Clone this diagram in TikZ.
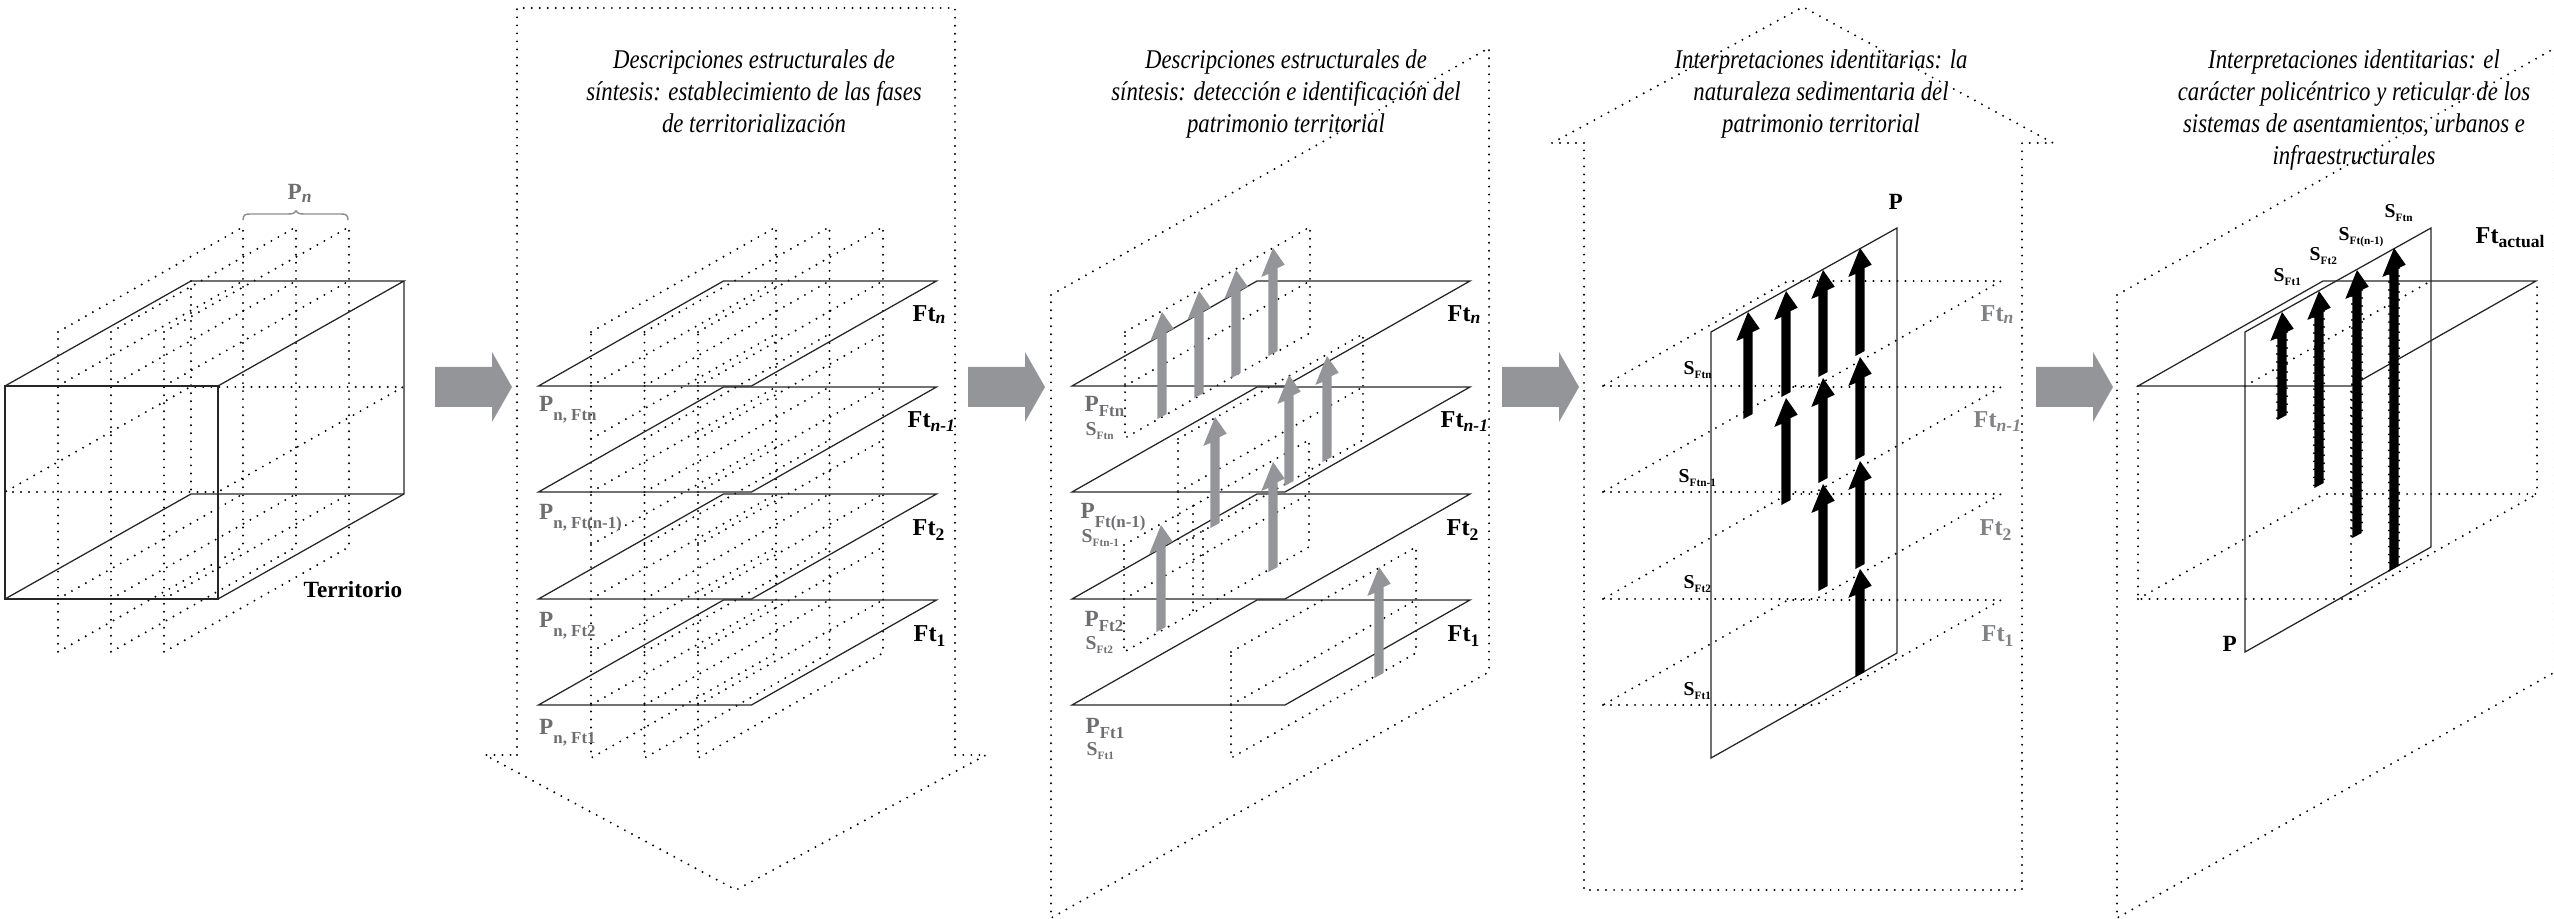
\documentclass[tikz,border=0pt]{standalone}
\usepackage{fontspec}
\setmainfont{Liberation Serif}
\newfontfamily\titlefont[FakeStretch=0.84]{Liberation Serif}
\definecolor{arrowgray}{HTML}{939598}
\definecolor{labelgray}{HTML}{6D6E71}
\definecolor{ghostgray}{HTML}{808285}

\tikzset{
	dotline/.style={line width=0.62pt, line cap=round, dash pattern=on 0pt off 2.28pt, color=black},
	solidline/.style={line width=0.36pt, color=black!85},
	titletext/.style={anchor=north, inner sep=0, align=center, font=\titlefont\itshape\fontsize{7.7}{9.1}\selectfont},
	lbl/.style={anchor=base west, inner sep=0, font=\bfseries}
}

% horizontal phase plane, front left corner given
\def\phaseplane[#1](#2,#3){\draw[#1] (#2,#3) -- ({#2+213},#3) -- ({#2+398},{#3-105}) -- ({#2+185},{#3-105}) -- cycle;}
% dotted box standing on a slanted side: x, top of the front edge, height
\def\wallbox(#1,#2,#3){\draw[dotline] (#1,#2) -- ({#1+185},{#2-105}) -- ({#1+185},{#2-105+#3}) -- (#1,{#2+#3}) -- cycle;}
\def\midline(#1,#2){\draw[dotline] (#1,#2) -- ({#1+185},{#2-105});}
% vertical cut of the cube
\def\slicefour(#1){%
	\wallbox(#1,332,320)
	\midline(#1,386)
	\midline(#1,599)
}
% vertical cut of the whole stack of planes
\def\slicenine(#1){%
	\wallbox(#1,332,426)
	\draw[dotline] (#1,386) -- ++(185,-105) (#1,439) -- ++(185,-105) (#1,492) -- ++(185,-105)
		(#1,545) -- ++(185,-105) (#1,599) -- ++(185,-105) (#1,652) -- ++(185,-105) (#1,705) -- ++(185,-105);
}
% arrow with slanted head and foot: colour, x, tip, foot
\def\sedarrow[#1](#2,#3,#4){\fill[#1] (#2,#3) -- ({#2+11.7},{#3+16.7}) -- ({#2+4.7},{#3+20}) -- ({#2+4.7},{#4-5})
	-- ({#2-4.6},#4) -- ({#2-4.6},{#3+26}) -- ({#2-11.7},{#3+29}) -- cycle;}
% dots along the two sides of a shaft
\def\dotflank(#1,#2,#3){\draw[dotline] ({#1+5},{#2+20}) -- ({#1+5},{#3-5}) ({#1-5},{#2+26}) -- ({#1-5},#3);}
% thick arrow between the panels
\def\bigarrow(#1){\fill[arrowgray] (#1,367) -- ({#1+57},367) -- ({#1+57},352) -- ({#1+77},387) -- ({#1+57},422) -- ({#1+57},407) -- (#1,407) -- cycle;}
% labels
\newcommand\psub[2]{{\fontsize{6.6}{7}\selectfont #1}\raisebox{-2.5pt}{\fontsize{4.8}{5}\selectfont #2}}
\newcommand\psubb[2]{{\fontsize{6.6}{7}\selectfont #1}\raisebox{-1.4pt}{\fontsize{4.8}{5}\selectfont #2}}
\newcommand\ssub[2]{{\fontsize{5.6}{6}\selectfont #1}\raisebox{-0.9pt}{\fontsize{3.2}{4}\selectfont #2}}
\newcommand\ftsub[2]{{\fontsize{6.9}{7}\selectfont Ft}\raisebox{#2}{\fontsize{5}{5}\selectfont #1}}

\begin{document}
\begin{tikzpicture}[x=0.01cm, y=-0.01cm]
		\useasboundingbox (0,0) rectangle (2554,919);
		%%%%% START %%%%%
		
		% territory cube
		\slicefour(58)
		\slicefour(111)
		\slicefour(164)
		\phaseplane[dotline](5,492)
		\draw[dotline] (191,281) -- (191,494);
		\draw[solidline] (5,386) rectangle (218,599);
		\draw[solidline] (5,386) -- (191,281) -- (404,281) -- (218,386);
		\draw[solidline] (404,281) -- (404,494) -- (218,599);
		\draw[solidline] (5,599) -- (191,494) -- (404,494);
		\draw[line width=0.4pt, color=black!45] (243,220) .. controls (243,215) and (245,214) .. (250,214) -- (288,214) .. controls (293,214) and (295,213) .. (296,211) .. controls (297,213) and (299,214) .. (304,214) -- (341,214) .. controls (346,214) and (348,215) .. (348,220);
		\node[lbl, color=labelgray] (pn) at (287,200) {{\fontsize{6.6}{7}\selectfont P}\raisebox{-0.6pt}{\fontsize{5}{5}\selectfont\itshape n}};
		\node[lbl, font=\bfseries\fontsize{6.6}{7}\selectfont] (territorio) at (303,598) {Territorio};
		
		\bigarrow(435)
		
		% phases
		\draw[dotline] (517,755) -- (517,8) -- (955,8) -- (955,755) -- (986,755) -- (736,890) -- (485,755) -- cycle;
		\node[titletext] (titleb) at (754,49) {Descripciones estructurales de\\síntesis: establecimiento de las fases\\de territorialización};
		\slicenine(591)
		\slicenine(644.5)
		\slicenine(698)
		\phaseplane[solidline](538.5,386)
		\phaseplane[solidline](538.5,492)
		\phaseplane[solidline](538.5,599)
		\phaseplane[solidline](538.5,705)
		\node[lbl, color=labelgray] (pbn) at (538.5,412) {\psub{P}{n, Ftn}};
		\node[lbl, color=labelgray] (pbm) at (538.5,520) {\psub{P}{n, Ft(n-1)}};
		\node[lbl, color=labelgray] (pbb) at (538.5,628) {\psub{P}{n, Ft2}};
		\node[lbl, color=labelgray] (pba) at (538.5,735) {\psub{P}{n, Ft1}};
		\node[lbl] (ftbn) at (912,322) {\ftsub{\itshape n}{-0.3pt}};
		\node[lbl] (ftbm) at (907,428) {\ftsub{\itshape n-1}{-1pt}};
		\node[lbl] (ftbb) at (912,536) {\ftsub{2}{-1.4pt}};
		\node[lbl] (ftba) at (913,642) {\ftsub{1}{-1.4pt}};
		
		\bigarrow(968)
		
		% patrimony in each phase
		\draw[dotline] (1051,295) -- (1489,48) -- (1489,672) -- (1051,918) -- cycle;
		\node[titletext] (titlec) at (1286,49) {Descripciones estructurales de\\síntesis: detección e identificación del\\patrimonio territorial};
		\wallbox(1125,332,106)
		\midline(1125,386)
		\wallbox(1178,439,106)
		\midline(1178,492)
		\wallbox(1124,545,107)
		\midline(1124,599)
		\draw[dotline] (1193,506) -- (1193,613);
		\draw[dotline] (1203,531) -- (1203,600);
		\wallbox(1231,652,106)
		\midline(1231,705)
		\phaseplane[solidline](1072,386)
		\phaseplane[solidline](1072,492)
		\phaseplane[solidline](1072,599)
		\phaseplane[solidline](1072,705)
		\sedarrow[arrowgray](1162,312,419)
		\sedarrow[arrowgray](1199,291,398)
		\sedarrow[arrowgray](1236,270,378)
		\sedarrow[arrowgray](1273,248,356)
		\sedarrow[arrowgray](1215,417,528)
		\sedarrow[arrowgray](1289,375,486)
		\sedarrow[arrowgray](1327,356,462)
		\sedarrow[arrowgray](1161,525,632)
		\sedarrow[arrowgray](1273,462,572)
		\sedarrow[arrowgray](1379,567,678)
		\node[lbl, color=labelgray] (pcn) at (1084,412) {\psubb{P}{Ftn}};
		\node[lbl, color=labelgray] (scn) at (1085,436) {\ssub{S}{Ftn}};
		\node[lbl, color=labelgray] (pcm) at (1080,519) {\psub{P}{Ft(n-1)}};
		\node[lbl, color=labelgray] (scm) at (1081,543) {\ssub{S}{Ftn-1}};
		\node[lbl, color=labelgray] (pcb) at (1084,627) {\psubb{P}{Ft2}};
		\node[lbl, color=labelgray] (scb) at (1085,650) {\ssub{S}{Ft2}};
		\node[lbl, color=labelgray] (pca) at (1085,734) {\psubb{P}{Ft1}};
		\node[lbl, color=labelgray] (sca) at (1086,756) {\ssub{S}{Ft1}};
		\node[lbl] (ftcn) at (1447,322) {\ftsub{\itshape n}{-0.3pt}};
		\node[lbl] (ftcm) at (1440,428) {\ftsub{\itshape n-1}{-1pt}};
		\node[lbl] (ftcb) at (1446,536) {\ftsub{2}{-1.4pt}};
		\node[lbl] (ftca) at (1447,642) {\ftsub{1}{-1.4pt}};
		
		\bigarrow(1502)
		
		% sedimentary nature
		\draw[dotline] (1584,143) -- (1552,143) -- (1803,7) -- (2053,143) -- (2022,143) -- (2022,890) -- (1584,890) -- cycle;
		\node[titletext] (titled) at (1821,49) {Interpretaciones identitarias: la\\naturaleza sedimentaria del\\patrimonio territorial};
		\phaseplane[dotline](1603,386)
		\phaseplane[dotline](1603,492)
		\phaseplane[dotline](1603,599)
		\phaseplane[dotline](1603,705)
		\draw[solidline] (1711,332) -- (1897,228) -- (1897,653) -- (1711,758) -- cycle;
		\sedarrow[black](1748,312,419)
		\sedarrow[black](1786,291,397)
		\sedarrow[black](1786,398,505)
		\sedarrow[black](1823,270,377)
		\sedarrow[black](1823,378,483)
		\sedarrow[black](1823,484,591)
		\sedarrow[black](1860,248,356)
		\sedarrow[black](1860,357,460)
		\sedarrow[black](1860,461,569)
		\sedarrow[black](1860,569,677)
		\node[lbl, font=\bfseries\fontsize{6.6}{7}\selectfont] (pd) at (1888,210) {P};
		\node[lbl] (sdn) at (1683,375) {\ssub{S}{Ftn}};
		\node[lbl] (sdm) at (1678,483) {\ssub{S}{Ftn-1}};
		\node[lbl] (sdb) at (1683,589) {\ssub{S}{Ft2}};
		\node[lbl] (sda) at (1683,696) {\ssub{S}{Ft1}};
		\node[lbl, color=ghostgray] (ftdn) at (1980,322) {\ftsub{\itshape n}{-0.3pt}};
		\node[lbl, color=ghostgray] (ftdm) at (1973,428) {\ftsub{\itshape n-1}{-1pt}};
		\node[lbl, color=ghostgray] (ftdb) at (1979,536) {\ftsub{2}{-1.4pt}};
		\node[lbl, color=ghostgray] (ftda) at (1981,642) {\ftsub{1}{-1.4pt}};
		
		\bigarrow(2036)
		
		% present phase
		\draw[dotline] (2117,295) -- (2555,48) -- (2555,672) -- (2117,918) -- cycle;
		\node[titletext] (titlee) at (2354,49) {Interpretaciones identitarias: el\\carácter policéntrico y reticular de los\\sistemas de asentamientos, urbanos e\\infraestructurales};
		\draw[dotline] (2138,386) -- (2138,599) -- (2351,599) -- (2351,386);
		\draw[dotline] (2138,599) -- (2324,494) -- (2537,494) -- (2537,281);
		\draw[dotline] (2351,599) -- (2537,494);
		\draw[dotline] (2245,386) -- (2431,281);
		\phaseplane[solidline](2138,386)
		\draw[solidline] (2245,332) -- (2431,228) -- (2431,547) -- (2245,652) -- cycle;
		\sedarrow[black](2282,312,420)
		\sedarrow[black](2319,291,488)
		\sedarrow[black](2357,270,538)
		\sedarrow[black](2394,248,571)
		\dotflank(2282,312,420)
		\dotflank(2319,291,488)
		\dotflank(2357,270,538)
		\dotflank(2394,248,571)
		\node[lbl] (sea) at (2273,282) {\ssub{S}{Ft1}};
		\node[lbl] (seb) at (2309,261) {\ssub{S}{Ft2}};
		\node[lbl] (sem) at (2338,241) {\ssub{S}{Ft(n-1)}};
		\node[lbl] (sen) at (2384,218) {\ssub{S}{Ftn}};
		\node[lbl] (ftact) at (2475,244) {{\fontsize{6.9}{7}\selectfont Ft}\raisebox{-1pt}{\fontsize{5}{5}\selectfont actual}};
		\node[lbl, font=\bfseries\fontsize{6.6}{7}\selectfont] (pe) at (2222,652) {P};
		
		%%%%% END %%%%%
	\end{tikzpicture}
\end{document}
